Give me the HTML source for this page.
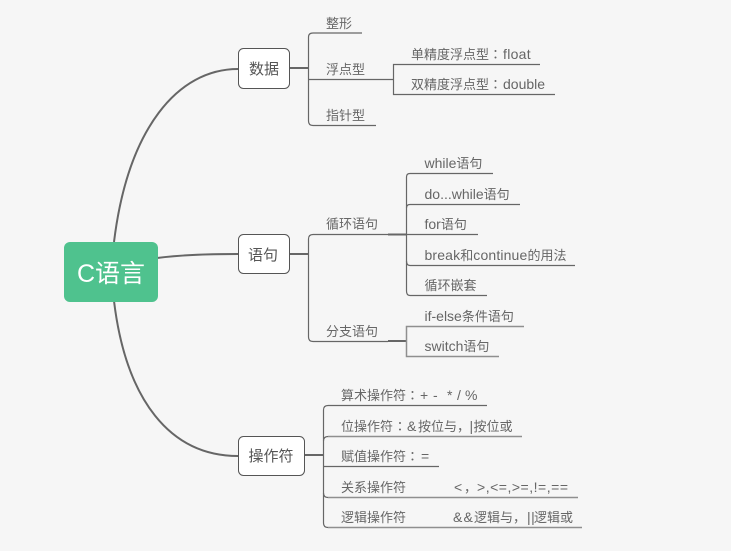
<!DOCTYPE html>
<html>
<head>
<meta charset="utf-8">
<style>
html,body{margin:0;padding:0;background:#f6f6f6;}
svg{display:block;}
text{font-family:"Liberation Sans","Noto Sans CJK SC",sans-serif;font-size:13px;fill:#666;white-space:pre;}
.a{font-size:14px;}
.p{font-family:"Noto Sans CJK TC",sans-serif;font-size:13px;}
.n{font-size:15px;fill:#555;text-anchor:middle;}
.l{fill:none;stroke:#666;stroke-width:1.2;}
.g{fill:none;stroke:#8f8f8f;stroke-width:1.5;}
.c{fill:none;stroke:#666;stroke-width:2;}
</style>
</head>
<body>
<svg width="731" height="551" viewBox="0 0 731 551" xmlns="http://www.w3.org/2000/svg">
<rect width="731" height="551" fill="#f6f6f6"/>
<path class="c" d="M114 242C128 128 178 69 238 69"/>
<path class="c" d="M157 258C180 255 210 254 238 254"/>
<path class="c" d="M114 301C126 400 170 456 238 456"/>
<path class="c" d="M290 68H308"/>
<path class="c" d="M289.500 254H308"/>
<path class="c" d="M304.500 455H323"/>

<path class="l" d="M362 33H313Q308.500 33 308.500 37V121Q308.500 125.500 313 125.500H376"/>
<path class="l" d="M309 79.500H393"/>
<path class="l" d="M540 64.500H393.500V94.500H555"/>

<path class="l" d="M388 234.500H313Q308.500 234.500 308.500 239V337Q308.500 341.500 313 341.500H388"/>
<path class="c" d="M388 234.500H406"/>
<path class="c" d="M388 341H406"/>
<path class="l" d="M493 173.500H410Q406.500 173.500 406.500 177V291Q406.500 295.500 410 295.500H487"/>
<path class="l" d="M520 204.500H410Q406.500 204.500 406.500 208"/>
<path class="l" d="M406 234.500H478"/>
<path class="l" d="M406.500 261Q406.500 265.500 410 265.500H575"/>
<path class="g" d="M524 326.500H406.500V356.500H499"/>

<path class="l" d="M487 405.500H328Q323.500 405.500 323.500 410V523Q323.500 527.500 328 527.500"/>
<path class="g" d="M328 527.500H582"/>
<path class="g" d="M522 436.500H328"/>
<path class="l" d="M328 436.500Q323.500 436.500 323.500 441"/>
<path class="l" d="M324 466.500H439"/>
<path class="l" d="M323.500 493Q323.500 497.500 328 497.500"/>
<path class="g" d="M328 497.500H578"/>

<rect x="64" y="242" width="94" height="60" rx="6" fill="#4fc28e"/>
<text x="111" y="282" style="font-size:25px;fill:#fff;text-anchor:middle">C语言</text>

<rect x="238.500" y="48.500" width="51" height="40" rx="5" fill="#fff" stroke="#555"/>
<text class="n" x="264" y="74">数据</text>
<rect x="238.500" y="234.500" width="51" height="39" rx="5" fill="#fff" stroke="#555"/>
<text class="n" x="263" y="260">语句</text>
<rect x="238.500" y="436.500" width="66" height="39" rx="5" fill="#fff" stroke="#555"/>
<text class="n" x="271" y="461">操作符</text>

<text x="326" y="28">整形</text>
<text x="326" y="74">浮点型</text>
<text x="326" y="120">指针型</text>
<text x="411" y="59">单精度浮点型<tspan class="p" x="489">：</tspan><tspan class="a" x="503" letter-spacing="0.3">float</tspan></text>
<text x="411" y="89">双精度浮点型<tspan class="p" x="489">：</tspan><tspan class="a" x="503">double</tspan></text>

<text x="326" y="228.500">循环语句</text>
<text x="326" y="336">分支语句</text>
<text x="424.500" y="168"><tspan class="a">while</tspan>语句</text>
<text x="424.500" y="199"><tspan class="a">do...while</tspan>语句</text>
<text x="424.500" y="229"><tspan class="a">for</tspan>语句</text>
<text x="424.500" y="260"><tspan class="a" letter-spacing="0.15">break</tspan>和<tspan class="a" letter-spacing="0.15">continue</tspan>的用法</text>
<text x="424.500" y="290">循环嵌套</text>
<text x="424.500" y="321"><tspan class="a">if-else</tspan>条件语句</text>
<text x="424.500" y="351"><tspan class="a">switch</tspan>语句</text>

<text x="341" y="400">算术操作符<tspan class="p" x="406">：</tspan><tspan class="a" x="420">+</tspan><tspan class="a" x="433">-</tspan><tspan class="a" x="447">*</tspan><tspan class="a" x="457">/</tspan><tspan class="a" x="465">%</tspan></text>
<text x="341" y="431">位操作符<tspan class="p" x="393.500">：</tspan><tspan class="a" x="407">&amp;</tspan><tspan x="418">按位与，</tspan><tspan class="a" x="469.500">|</tspan><tspan x="473.500">按位或</tspan></text>
<text x="341" y="461">赋值操作符<tspan class="p" x="406">：</tspan><tspan class="a" x="421">=</tspan></text>
<text x="341" y="492">关系操作符</text>
<text x="341" y="522">逻辑操作符</text>
<text x="454" y="492" class="a">&lt;<tspan style="font-size:13px" x="464">，</tspan></text>
<text x="477" y="492" class="a" textLength="91" lengthAdjust="spacing">&gt;,&lt;=,&gt;=,!=,==</text>
<text x="453" y="522" class="a" letter-spacing="1.2">&amp;&amp;</text>
<text x="474" y="522">逻辑与，</text>
<text x="527" y="522" class="a" letter-spacing="0.5">||</text>
<text x="534" y="522">逻辑或</text>
</svg>
</body>
</html>
